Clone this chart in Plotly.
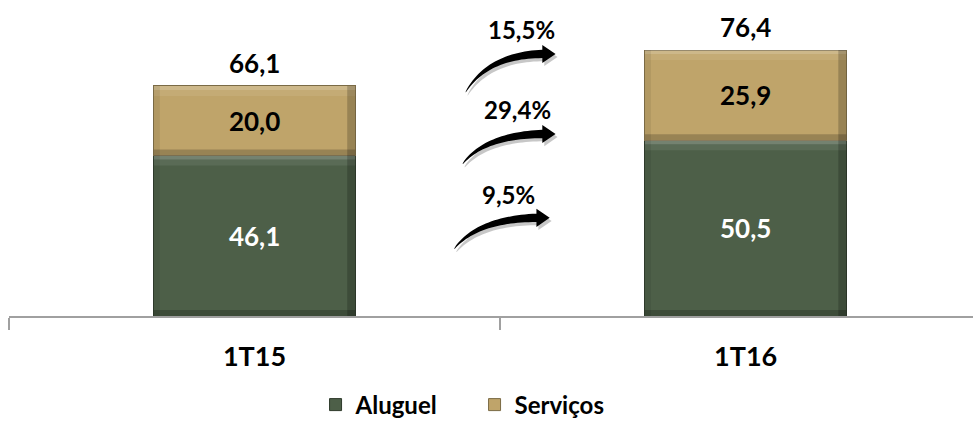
import numpy as np
import plotly.graph_objects as go

# Quarterly revenue split (R$ milhões)
categories = ["1T15", "1T16"]
aluguel = [46.1, 50.5]
servicos = [20.0, 25.9]
growth_labels = ["15,5%", "29,4%", "9,5%"]  # total, serviços, aluguel

COLOR_ALUGUEL = "#4D5F48"
COLOR_SERVICOS = "#BFA46A"
FONT = "Lato"
BAR_WIDTH = 0.41

x_pos = list(range(len(categories)))
totals = [a + s for a, s in zip(aluguel, servicos)]


def fmt(v):
    return f"{v:.1f}".replace(".", ",")


fig = go.Figure()
fig.add_trace(go.Bar(
    name="Aluguel", x=x_pos, y=aluguel, width=BAR_WIDTH,
    marker=dict(color=COLOR_ALUGUEL, line=dict(color="#2E3A2B", width=1)),
    texttemplate="%{y:.1f}", textposition="inside", insidetextanchor="middle",
    textfont=dict(family=FONT, size=26, color="white", weight="bold"),
))
fig.add_trace(go.Bar(
    name="Serviços", x=x_pos, y=servicos, width=BAR_WIDTH,
    marker=dict(color=COLOR_SERVICOS, line=dict(color="#7A6A45", width=1)),
    texttemplate="%{y:.1f}", textposition="inside", insidetextanchor="middle",
    textfont=dict(family=FONT, size=26, color="black", weight="bold"),
))

# bevel highlights/shadows on each stacked segment
shapes = []
for i in x_pos:
    bottoms = [0, aluguel[i]]
    tops = [aluguel[i], totals[i]]
    for b, t in zip(bottoms, tops):
        x0, x1 = i - BAR_WIDTH / 2, i + BAR_WIDTH / 2
        shapes.append(dict(type="rect", xref="x", yref="y", ysizemode="pixel", yanchor=t,
                           x0=x0, x1=x1, y0=-4, y1=0, line=dict(width=0),
                           fillcolor="rgba(255,255,255,0.22)", layer="above"))
        shapes.append(dict(type="rect", xref="x", yref="y", ysizemode="pixel", yanchor=t,
                           x0=x0, x1=x1, y0=-10, y1=-4, line=dict(width=0),
                           fillcolor="rgba(255,255,255,0.08)", layer="above"))
        shapes.append(dict(type="rect", xref="x", yref="y", ysizemode="pixel", yanchor=b,
                           x0=x0, x1=x1, y0=0, y1=6, line=dict(width=0),
                           fillcolor="rgba(0,0,0,0.2)", layer="above"))
        shapes.append(dict(type="rect", xref="x", yref="y", xsizemode="pixel", xanchor=x1,
                           x0=-8, x1=0, y0=b, y1=t, line=dict(width=0),
                           fillcolor="rgba(0,0,0,0.2)", layer="above"))
        shapes.append(dict(type="rect", xref="x", yref="y", xsizemode="pixel", xanchor=x0,
                           x0=0, x1=6, y0=b, y1=t, line=dict(width=0),
                           fillcolor="rgba(0,0,0,0.07)", layer="above"))


# curved growth arrows between the two quarters (tail, tip in axis units)
arrows = [((0.43, 64.2), (0.613, 74.1)),
          ((0.424, 43.6), (0.613, 51.1)),
          ((0.407, 19.2), (0.601, 27.0))]
label_pos = [(0.543, 82.4), (0.536, 59.4), (0.517, 35.0)]


def arrow_path(tail, tip, dx=0.0, dy=0.0):
    head_len, head_half, shaft_w = 0.027, 2.6, 2.4
    tx, ty = tail
    px, py = tip
    ex = px - head_len
    p0 = np.array([tx, ty])
    p1 = np.array([tx + 0.3 * (ex - tx), py])
    p2 = np.array([ex, py])
    t = np.linspace(0, 1, 30)[:, None]
    curve = (1 - t) ** 2 * p0 + 2 * (1 - t) * t * p1 + t ** 2 * p2
    w = 0.3 + (shaft_w - 0.3) * t[:, 0] ** 0.6
    lower = [(x + dx, y + dy) for x, y in curve]
    upper = [(x + dx, y + wi + dy) for (x, y), wi in zip(curve, w)]
    mid = py + shaft_w / 2
    head = [(ex + dx, mid - head_half + dy), (px + dx, mid + dy), (ex + dx, mid + head_half + dy)]
    pts = lower + head + upper[::-1]
    return "M " + " L ".join(f"{x:.4f},{y:.3f}" for x, y in pts) + " Z"


for tail, tip in arrows:
    shapes.append(dict(type="path", xref="x", yref="y", path=arrow_path(tail, tip, 0.004, -0.9),
                       fillcolor="rgba(0,0,0,0.22)", line=dict(width=0), layer="above"))
    shapes.append(dict(type="path", xref="x", yref="y", path=arrow_path(tail, tip),
                       fillcolor="black", line=dict(width=0), layer="above"))

annotations = []
for i, tot in zip(x_pos, totals):
    annotations.append(dict(x=i, y=tot, xref="x", yref="y", text=fmt(tot), showarrow=False,
                            yanchor="middle", yshift=23,
                            font=dict(family=FONT, size=26, color="black", weight="bold")))
for (lx, ly), lbl in zip(label_pos, growth_labels):
    annotations.append(dict(x=lx, y=ly, xref="x", yref="y", text=lbl, showarrow=False,
                            font=dict(family=FONT, size=24, color="black", weight="bold")))

fig.update_layout(
    barmode="stack",
    width=973, height=421,
    margin=dict(l=9, r=0, t=0, b=105, autoexpand=False),
    plot_bgcolor="white", paper_bgcolor="white",
    separators=",.",
    shapes=shapes,
    annotations=annotations,
    showlegend=True,
    legend=dict(orientation="h", x=0.318, xanchor="left",
                yref="container", y=0.038, yanchor="middle",
                font=dict(family=FONT, size=24, color="black", weight="bold"),
                itemwidth=30, entrywidth=114, traceorder="normal"),
    xaxis=dict(range=[-0.5, 1.463], tickvals=x_pos, ticktext=categories, automargin=False,
               ticks="outside", ticklen=16, tickcolor="rgba(0,0,0,0)",
               tickfont=dict(family=FONT, size=27, color="black", weight="bold"),
               showline=True, linecolor="#A0A0A0", linewidth=1.5, showgrid=False,
               zeroline=False,
               minor=dict(tickvals=[-0.5, 0.5, 1.5], ticks="outside", ticklen=12,
                          tickcolor="#A0A0A0", tickwidth=1.5, showgrid=False)),
    yaxis=dict(range=[0, 90.8], visible=False, showgrid=False, zeroline=False,
               automargin=False),
)

fig.write_html("out.html")
